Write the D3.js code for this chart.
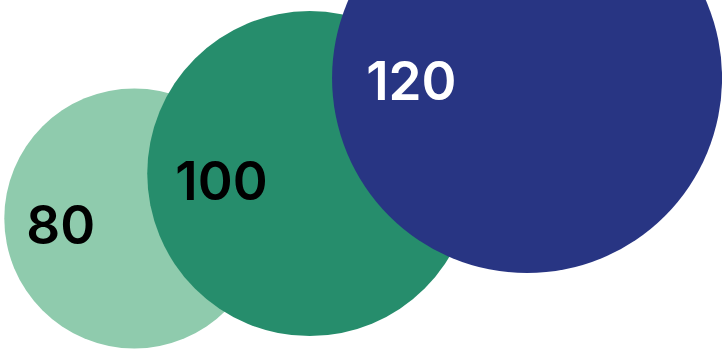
<!DOCTYPE html>
<html>
<head>
    <script src="https://cdnjs.cloudflare.com/ajax/libs/d3/7.8.5/d3.min.js"></script>
    <style>
        body { margin: 0; background: #fff; }
        .label {
            font-family: Inter, "DejaVu Sans", sans-serif;
            font-size: 53px;
            font-weight: 600;
        }
    </style>
</head>
<body>
    <div id="chart"></div>
    <script>
        // Data
        const values = [80, 100, 120];
        const xValues = [18.6, 42.9, 73.0];
        const yValues = [37.6, 50.4, 77.7];
        const colors = ["#8fcbad", "#268d6c", "#283583"];
        const textColors = ["#000000", "#000000", "#ffffff"];

        const width = 722;
        const height = 350;

        const svg = d3.select("#chart")
            .append("svg")
            .attr("width", width)
            .attr("height", height);

        const x = d3.scaleLinear().domain([0, 100]).range([0, width]);
        const y = d3.scaleLinear().domain([0, 100]).range([height, 0]);
        const r = d3.scaleLinear().domain([0, 120]).range([0, 195]);

        const data = values.map((v, i) => ({
            value: v, x: xValues[i], y: yValues[i], color: colors[i], text: textColors[i]
        }));

        // Bubbles
        svg.append("g")
            .selectAll("circle")
            .data(data)
            .join("circle")
            .attr("cx", d => x(d.x))
            .attr("cy", d => y(d.y))
            .attr("r", d => r(d.value))
            .attr("fill", d => d.color);

        // Labels on the left side of each bubble
        svg.append("g")
            .selectAll("text")
            .data(data)
            .join("text")
            .attr("class", "label")
            .attr("x", d => x(d.x) - r(d.value) * 0.815 - 2)
            .attr("y", d => y(d.y) + 26 - (d.value === 120 ? 4 : 0))
            .attr("fill", d => d.text)
            .text(d => d.value);
    </script>
</body>
</html>
